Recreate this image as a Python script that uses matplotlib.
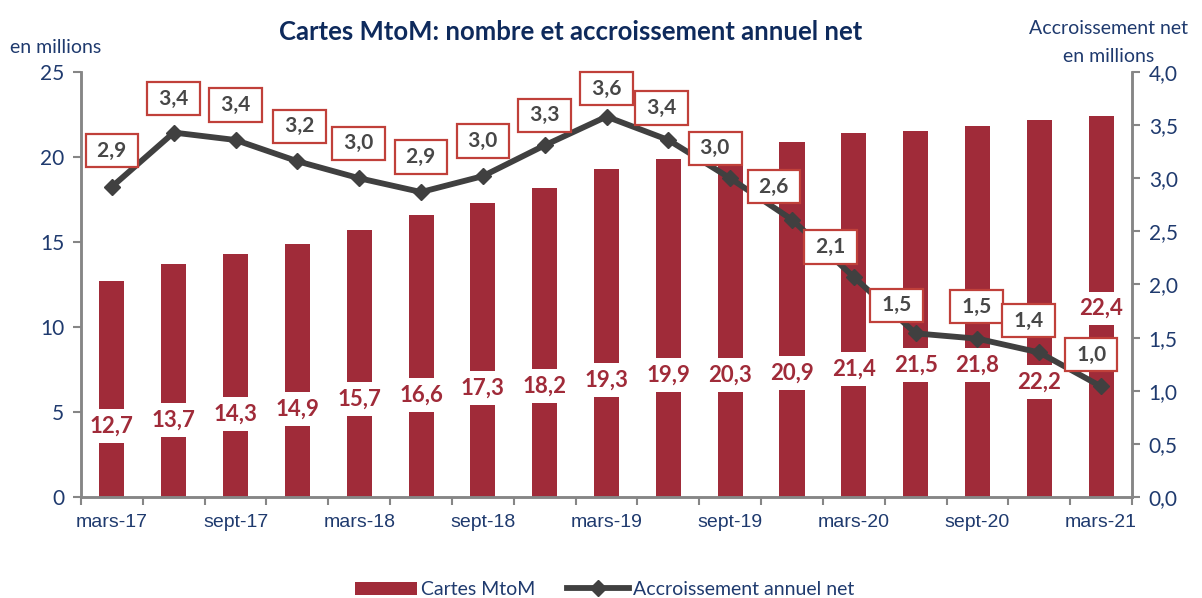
import matplotlib
matplotlib.use('Agg')
import matplotlib.pyplot as plt
import numpy as np

plt.rcParams['font.family'] = ['Lato', 'DejaVu Sans']

# data
trimestres = ['mars-17', 'juin-17', 'sept-17', 'déc-17', 'mars-18', 'juin-18',
              'sept-18', 'déc-18', 'mars-19', 'juin-19', 'sept-19', 'déc-19',
              'mars-20', 'juin-20', 'sept-20', 'déc-20', 'mars-21']
cartes = [12.7, 13.7, 14.3, 14.9, 15.7, 16.6, 17.3, 18.2, 19.3, 19.9,
          20.3, 20.9, 21.4, 21.5, 21.8, 22.2, 22.4]
accroissement = [2.92, 3.43, 3.36, 3.16, 3.00, 2.87, 3.02, 3.31, 3.58, 3.36,
                 3.00, 2.61, 2.07, 1.54, 1.49, 1.36, 1.04]
y_ticks_left = [0, 5, 10, 15, 20, 25]
y_ticks_right = [0.0, 0.5, 1.0, 1.5, 2.0, 2.5, 3.0, 3.5, 4.0]

# label placement (not data)
bar_label_y = [4.18, 4.53, 4.88, 5.18, 5.76, 5.99, 6.4, 6.53, 6.88, 7.18,
               7.18, 7.29, 7.53, 7.76, 7.76, 6.76, 11.1]
line_label_off = [(0, 36), (0, 34), (0, 35), (2, 35), (-1, 35), (0, 35),
                  (0, 35), (0, 30), (0, 28), (-7, 32), (-15, 30), (-18, 33),
                  (-23, 30), (-19, 28), (-1, 32), (-11, 32), (-10, 32)]

navy = '#1F3A6E'
bar_red = '#A02B39'
line_grey = '#404040'
axis_grey = '#868686'


def fmt(v):
    return f'{v:.1f}'.replace('.', ',')


fig = plt.figure(figsize=(12.02, 5.98), dpi=100)
ax = fig.add_axes([0.0674, 0.1689, 0.8744, 0.7107])
ax2 = ax.twinx()

x = np.arange(len(trimestres))
ax.bar(x, cartes, width=0.405, color=bar_red, zorder=2, label='Cartes MtoM')
for i, v in enumerate(cartes):
    ax.text(i, bar_label_y[i], fmt(v), ha='center', va='center', fontsize=16,
            fontweight='bold', color=bar_red, zorder=3,
            bbox=dict(boxstyle='square,pad=0.28', fc='white', ec='none'))

ax2.plot(x, accroissement, color=line_grey, lw=4.2, marker='D', ms=8,
         zorder=3, label='Accroissement annuel net')
for i, v in enumerate(accroissement):
    dx, dy = line_label_off[i]
    ax2.annotate(' ' + fmt(v) + ' ', xy=(i, v), xytext=(dx, dy),
                 textcoords='offset pixels', ha='center', va='center',
                 fontsize=15, fontweight='bold', color='#474747', zorder=5,
                 bbox=dict(boxstyle='square,pad=0.32', fc='white',
                           ec='#C0403A', lw=1.6))

ax.set_xlim(-0.5, len(trimestres) - 0.5)
ax.set_ylim(0, 25)
ax2.set_ylim(0, 4)

ax.set_yticks(y_ticks_left)
ax.set_yticklabels([str(t) for t in y_ticks_left])
ax2.set_yticks(y_ticks_right)
ax2.set_yticklabels([fmt(t) for t in y_ticks_right])

# boundaries as major ticks, labels every other quarter as minor
ax.set_xticks(np.arange(len(trimestres) + 1) - 0.5)
ax.set_xticklabels([])
ax.set_xticks(x[::2], minor=True)
ax.set_xticklabels(trimestres[::2], minor=True,
                   family=['Liberation Sans Narrow', 'Liberation Sans'],
                   fontsize=14, color=navy)
ax.tick_params(axis='x', which='major', length=6, width=1.5, color=axis_grey)
ax.tick_params(axis='x', which='minor', length=0, pad=12)
ax.tick_params(axis='y', length=6, width=1.5, color=axis_grey,
               labelsize=15, labelcolor=navy, pad=6)
ax2.tick_params(axis='y', length=6, width=1.5, color=axis_grey,
                labelsize=15, labelcolor=navy, pad=6)

for a in (ax, ax2):
    a.spines['top'].set_visible(False)
    for s in ('left', 'right', 'bottom'):
        a.spines[s].set_color(axis_grey)
        a.spines[s].set_linewidth(1.8)

fig.text(0.475, 0.946, 'Cartes MtoM: nombre et accroissement annuel net',
         ha='center', va='center', fontsize=18.5, fontweight='bold',
         color='#0E2A5C')
fig.text(0.008, 0.92, 'en millions', ha='left', va='center', fontsize=14,
         color=navy)
fig.text(0.922, 0.953, 'Accroissement net', ha='center', va='center',
         fontsize=14, color=navy)
fig.text(0.922, 0.906, 'en millions', ha='center', va='center',
         fontsize=14, color=navy)

h1, l1 = ax.get_legend_handles_labels()
h2, l2 = ax2.get_legend_handles_labels()
fig.legend(h1 + h2, l1 + l2, loc='center', bbox_to_anchor=(0.503, 0.014),
           ncol=2, frameon=False, fontsize=14, labelcolor=navy,
           handlelength=3.2, handletextpad=0.2, columnspacing=1.6)

fig.savefig('out.png', dpi=100)
